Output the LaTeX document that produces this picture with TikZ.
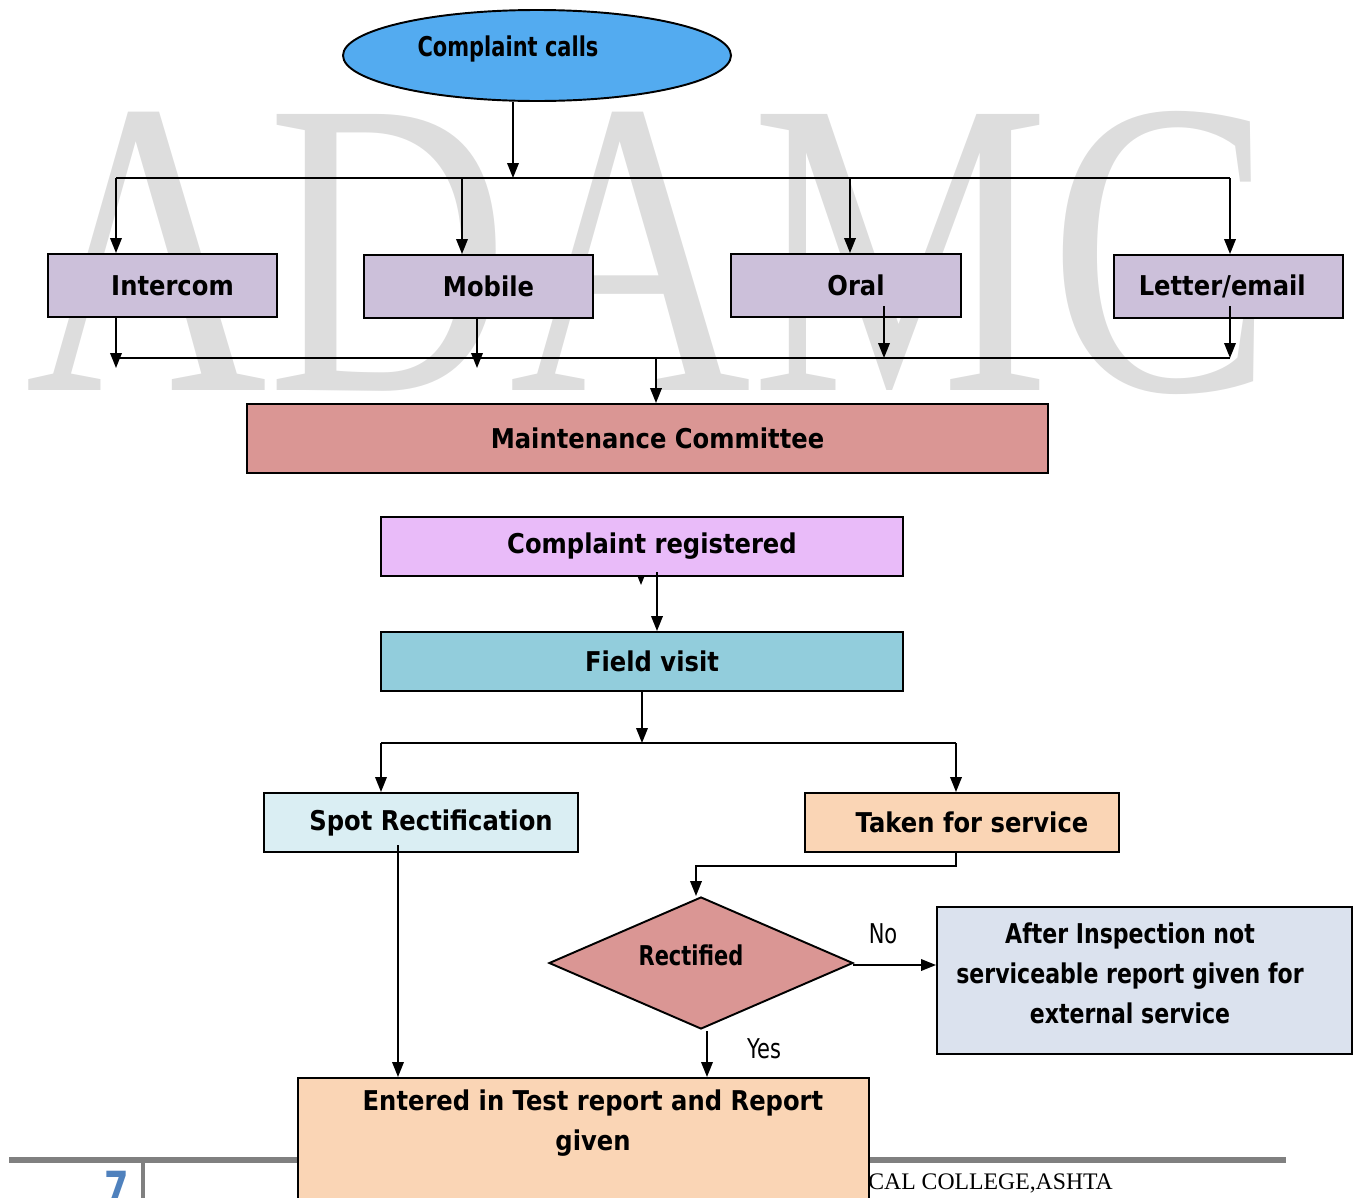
\documentclass[tikz,border=0pt]{standalone}
\usepackage{fontspec}
\setmainfont{DejaVu Sans}
\newfontfamily\bfnt{DejaVu Sans}[FakeStretch=0.89]
\newfontfamily\afnt{DejaVu Sans}[FakeStretch=0.81]
\newfontfamily\cfnt{DejaVu Sans}[FakeStretch=0.77]
\newfontfamily\wmfnt{Liberation Serif}
\usetikzlibrary{arrows.meta,shapes.geometric}
\definecolor{wmgray}{RGB}{221,221,221}
\definecolor{callblue}{RGB}{83,171,240}
\definecolor{lilac}{RGB}{204,192,218}
\definecolor{rose}{RGB}{218,150,148}
\definecolor{pinkv}{RGB}{233,187,249}
\definecolor{teal}{RGB}{146,205,220}
\definecolor{paleblue}{RGB}{218,238,243}
\definecolor{peach}{RGB}{250,213,181}
\definecolor{greyblue}{RGB}{219,226,238}
\definecolor{footgray}{RGB}{128,128,128}
\definecolor{numblue}{RGB}{79,129,189}
\begin{document}
\begin{tikzpicture}[x=0.02cm,y=-0.02cm,
  box/.style={draw=black, line width=1.1pt, inner sep=0pt, align=center,
    font=\bfnt\bfseries\fontsize{15.5}{22.7}\selectfont},
  txt/.style={inner sep=0pt, align=center, font=\bfnt\bfseries\fontsize{15.5}{22.7}\selectfont},
  sh/.style={execute at begin node={\hspace*{0.4cm}}},
  ln/.style={line width=1.1pt},
  arr/.style={ln, -{Triangle[length=0.3cm,width=0.23cm]}},
  lbl/.style={inner sep=0pt, font=\cfnt\fontsize{15.5}{18}\selectfont}]
\useasboundingbox (0,0) rectangle (1361,1197);
% watermark
\node[anchor=base west, inner sep=0pt, text=wmgray] (wm) at (25,390)
  {\scalebox{0.795}[1]{\wmfnt\fontsize{240}{240}\selectfont ADAMC}};
% footer
\draw[footgray, line width=0.12cm] (9,1160) coordinate (fl) -- (1286,1160) coordinate (fr);
\draw[footgray, line width=0.08cm] (143,1160) coordinate (fv) -- (143,1200);
\node[anchor=north, inner sep=0pt, text=numblue, font=\cfnt\bfseries\fontsize{26}{26}\selectfont] (pnum) at (117,1171) {7};
\node[anchor=base west, inner sep=0pt, font=\wmfnt\fontsize{13.5}{14}\selectfont] (foot) at (868,1189) {CAL COLLEGE,ASHTA};
% top ellipse
\node[draw=black, line width=1.1pt, ellipse, fill=callblue, minimum width={388*0.02cm}, minimum height={91*0.02cm}, inner sep=0pt] (calls) at (537,55.5) {};
\node[inner sep=0pt, font=\cfnt\bfseries\fontsize{15.5}{18}\selectfont] (callstxt) at (508,49) {Complaint calls};
% distribution
\coordinate (j0) at (513,178);
\coordinate (t1) at (116,178);
\coordinate (t2) at (462,178);
\coordinate (t3) at (850,178);
\coordinate (t4) at (1230,178);
\draw[arr] (calls.south -| j0) -- (j0);
\draw[ln] (t1) -- (t4);
% source boxes
\node[box, sh, fill=lilac, minimum width={229*0.02cm}, minimum height={63*0.02cm}] (intercom) at (162.5,285.5) {Intercom};
\node[box, sh, fill=lilac, minimum width={229*0.02cm}, minimum height={63*0.02cm}] (mobile) at (478.5,286.5) {Mobile};
\node[box, sh, fill=lilac, minimum width={230*0.02cm}, minimum height={63*0.02cm}] (oral) at (846,285.5) {Oral};
\node[box, fill=lilac, minimum width={229*0.02cm}, minimum height={63*0.02cm}] (letter) at (1228.5,286.5) {Letter/email\hspace*{0.25cm}};
\draw[arr] (t1) -- (t1 |- intercom.north);
\draw[arr] (t2) -- (t2 |- mobile.north);
\draw[arr] (t3) -- (t3 |- oral.north);
\draw[arr] (t4) -- (t4 |- letter.north);
% collecting line
\coordinate (b1) at (116,358);
\coordinate (b2) at (477,358);
\coordinate (b3) at (884,358);
\coordinate (b4) at (1230,358);
\coordinate (bm) at (656,358);
\draw[ln] (b1) -- (b4);
\draw[arr] (b1 |- intercom.south) -- (116,368);
\draw[arr] (b2 |- mobile.south) -- (477,368);
\draw[arr] (884,306) -- (b3);
\draw[arr] (1230,306) -- (b4);
% maintenance
\node[box, sh, fill=rose, minimum width={801*0.02cm}, minimum height={69*0.02cm}] (maint) at (647.5,438.5) {Maintenance Committee};
\draw[arr] (bm) -- (bm |- maint.north);
% registered / field visit
\draw[arr] (641,560) -- (641,585);
\node[box, sh, fill=pinkv, minimum width={522*0.02cm}, minimum height={59*0.02cm}] (reg) at (642,546.5) {Complaint registered};
\node[box, sh, fill=teal, minimum width={522*0.02cm}, minimum height={59*0.02cm}] (field) at (642,661.5) {Field visit};
\coordinate (r1) at (657,572);
\draw[arr] (r1) -- (r1 |- field.north);
\coordinate (f1) at (642,743);
\coordinate (s1) at (381,743);
\coordinate (s2) at (956,743);
\draw[arr] (field.south -| f1) -- (f1);
\draw[ln] (s1) -- (s2);
% spot / taken
\node[box, sh, fill=paleblue, minimum width={314*0.02cm}, minimum height={59*0.02cm}] (spot) at (421,822.5) {Spot Rectification};
\node[box, sh, fill=peach, minimum width={314*0.02cm}, minimum height={59*0.02cm}] (taken) at (962,822.5) {Taken for service};
\draw[arr] (s1) -- (s1 |- spot.north);
\draw[arr] (s2) -- (s2 |- taken.north);
% diamond
\node[draw=black, line width=1.1pt, diamond, fill=rose, minimum width={304*0.02cm}, minimum height={132*0.02cm}, inner sep=0pt] (rect) at (701,963) {};
\node[inner sep=0pt, font=\cfnt\bfseries\fontsize{15.5}{18}\selectfont] (recttxt) at (691,955) {Rectified};
\coordinate (k1) at (956,866);
\coordinate (k2) at (696,866);
\draw[arr] (s2 |- taken.south) -- (k1) -- (k2) -- (k2 |- rect.north);
% after inspection
\node[box, fill=greyblue, minimum width={415*0.02cm}, minimum height={147*0.02cm}] (after) at (1144.5,980.5) {};
\node[txt, font=\afnt\bfseries\fontsize{15.5}{22.7}\selectfont] (aftertxt) at (1130,973) {After Inspection not\\serviceable report given for\\external service};
\coordinate (nn) at (853,965);
\draw[arr] (nn) -- (nn -| after.west);
\node[lbl] (nolbl) at (883,934) {No};
% entered
\node[box, fill=peach, anchor=north, minimum width={571*0.02cm}, minimum height={140*0.02cm}] (entered) at (583.5,1077) {};
\node[txt] (enteredtxt) at (593,1123) {Entered in Test report and Report\\given};
\coordinate (y1) at (707,1031);
\draw[arr] (y1) -- (y1 |- entered.north);
\node[lbl] (yeslbl) at (764,1049) {Yes};
\coordinate (p1) at (398,845);
\draw[arr] (p1) -- (p1 |- entered.north);
\end{tikzpicture}
\end{document}
